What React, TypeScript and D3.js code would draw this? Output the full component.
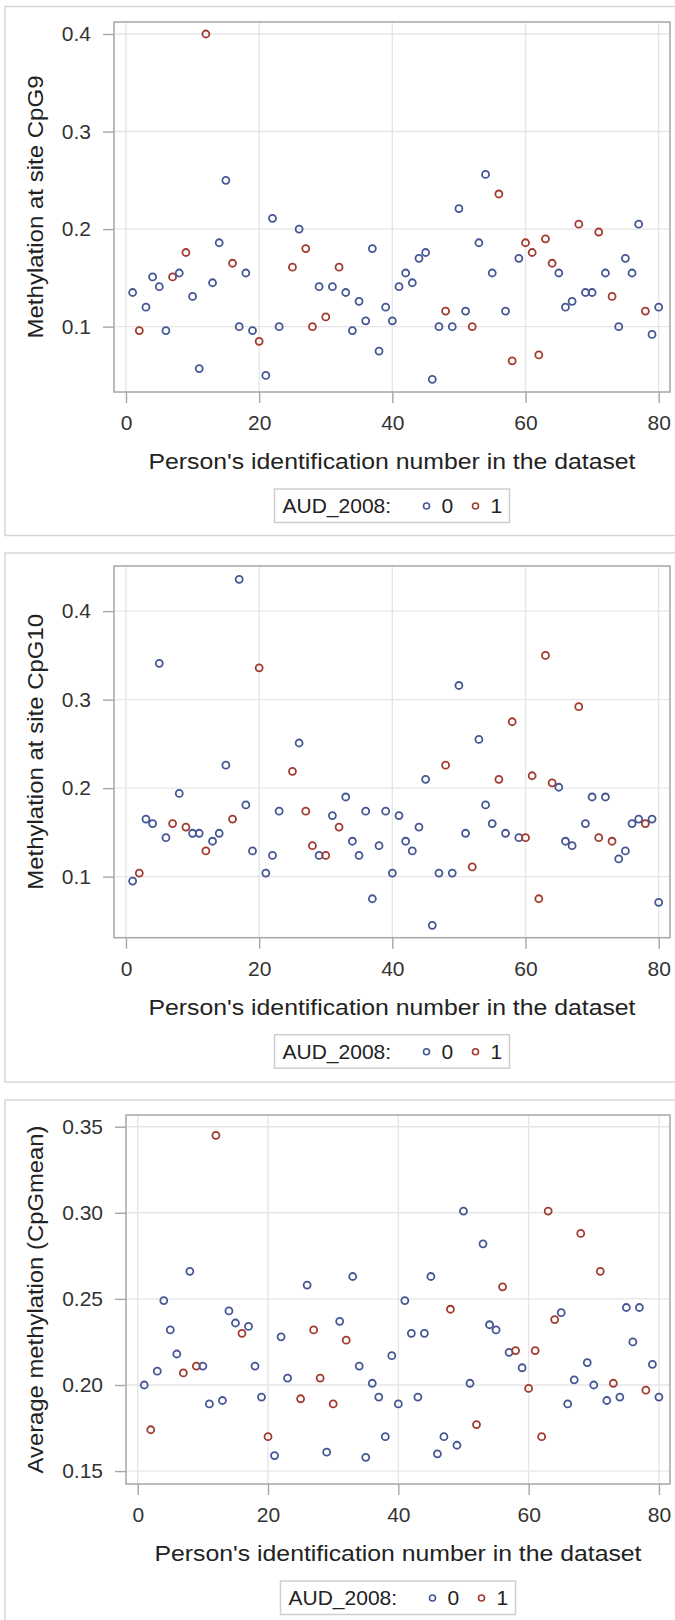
import React, { useEffect, useRef } from 'react';
import * as d3 from 'd3';

// person ids (id 24 is not in the data)
const ids = [
  1, 2, 3, 4, 5, 6, 7, 8, 9, 10, 11, 12, 13, 14, 15, 16, 17, 18, 19, 20,
  21, 22, 23, 25, 26, 27, 28, 29, 30, 31, 32, 33, 34, 35, 36, 37, 38, 39, 40,
  41, 42, 43, 44, 45, 46, 47, 48, 49, 50, 51, 52, 53, 54, 55, 56, 57, 58, 59, 60,
  61, 62, 63, 64, 65, 66, 67, 68, 69, 70, 71, 72, 73, 74, 75, 76, 77, 78, 79, 80,
];

// AUD_2008 group for each id
const aud2008 = [
  0, 1, 0, 0, 0, 0, 1, 0, 1, 0, 0, 1, 0, 0, 0, 1, 0, 0, 0, 1,
  0, 0, 0, 1, 0, 1, 1, 0, 1, 0, 1, 0, 0, 0, 0, 0, 0, 0, 0,
  0, 0, 0, 0, 0, 0, 0, 1, 0, 0, 0, 1, 0, 0, 0, 1, 0, 1, 0, 1,
  1, 1, 1, 1, 0, 0, 0, 1, 0, 0, 1, 0, 1, 0, 0, 0, 0, 1, 0, 0,
];

const cpg9 = [
  0.135, 0.096, 0.120, 0.151, 0.141, 0.096, 0.151, 0.155, 0.176, 0.131,
  0.057, 0.400, 0.145, 0.186, 0.250, 0.165, 0.100, 0.155, 0.096, 0.085,
  0.050, 0.211, 0.100, 0.161, 0.200, 0.180, 0.100, 0.141, 0.110, 0.141,
  0.161, 0.135, 0.096, 0.126, 0.106, 0.180, 0.075, 0.120, 0.106,
  0.141, 0.155, 0.145, 0.170, 0.176, 0.046, 0.100, 0.116, 0.100, 0.221,
  0.116, 0.100, 0.186, 0.256, 0.155, 0.236, 0.116, 0.065, 0.170, 0.186,
  0.176, 0.071, 0.190, 0.165, 0.155, 0.120, 0.126, 0.205, 0.135, 0.135,
  0.197, 0.155, 0.131, 0.100, 0.170, 0.155, 0.205, 0.116, 0.092, 0.120,
];

const cpg10 = [
  0.095, 0.104, 0.165, 0.160, 0.341, 0.144, 0.160, 0.194, 0.156, 0.149,
  0.149, 0.129, 0.140, 0.149, 0.226, 0.165, 0.436, 0.181, 0.129, 0.336,
  0.104, 0.124, 0.174, 0.219, 0.251, 0.174, 0.135, 0.124, 0.124, 0.169,
  0.156, 0.190, 0.140, 0.124, 0.174, 0.075, 0.135, 0.174, 0.104,
  0.169, 0.140, 0.129, 0.156, 0.210, 0.045, 0.104, 0.226, 0.104, 0.316,
  0.149, 0.111, 0.255, 0.181, 0.160, 0.210, 0.149, 0.275, 0.144, 0.144,
  0.214, 0.075, 0.350, 0.206, 0.201, 0.140, 0.135, 0.292, 0.160, 0.190,
  0.144, 0.190, 0.140, 0.120, 0.129, 0.160, 0.165, 0.160, 0.165, 0.071,
];

const cpgMean = [
  0.200, 0.174, 0.208, 0.249, 0.232, 0.218, 0.207, 0.266, 0.211, 0.211,
  0.189, 0.345, 0.191, 0.243, 0.236, 0.230, 0.234, 0.211, 0.193, 0.170,
  0.159, 0.228, 0.204, 0.192, 0.258, 0.232, 0.204, 0.161, 0.189, 0.237,
  0.226, 0.263, 0.211, 0.158, 0.201, 0.193, 0.170, 0.217, 0.189,
  0.249, 0.230, 0.193, 0.230, 0.263, 0.160, 0.170, 0.244, 0.165, 0.301,
  0.201, 0.177, 0.282, 0.235, 0.232, 0.257, 0.219, 0.220, 0.210, 0.198,
  0.220, 0.170, 0.301, 0.238, 0.242, 0.189, 0.203, 0.288, 0.213, 0.200,
  0.266, 0.191, 0.201, 0.193, 0.245, 0.225, 0.245, 0.197, 0.212, 0.193,
];

const xTicks = [0, 20, 40, 60, 80];
const cpg9Ticks = [0.1, 0.2, 0.3, 0.4];
const cpg10Ticks = [0.1, 0.2, 0.3, 0.4];
const meanTicks = [0.15, 0.2, 0.25, 0.3, 0.35];
const legendLabels = ['0', '1'];
const xTitle = "Person's identification number in the dataset";

const W = 675;
const H = 1620;
const COLORS = ['#445694', '#a23a2e'];
const FONT = '"Liberation Sans", Arial, sans-serif';
const X_DOMAIN = [-1.8, 81.7];

const panels = [
  { top: 6.5, frame: [114, 22, 670, 392], yDomain: [0.033, 0.4123], values: cpg9, ticks: cpg9Ticks, fmt: '.1f', title: 'Methylation at site CpG9', titleLen: 263 },
  { top: 553, frame: [114, 566, 670, 937.7], yDomain: [0.031, 0.451], values: cpg10, ticks: cpg10Ticks, fmt: '.1f', title: 'Methylation at site CpG10', titleLen: 276 },
  { top: 1100, frame: [126, 1115, 670, 1484], yDomain: [0.1425, 0.3568], values: cpgMean, ticks: meanTicks, fmt: '.2f', title: 'Average methylation (CpGmean)', titleLen: 348 },
];

const App = () => {
  const ref = useRef<SVGSVGElement>(null);

  useEffect(() => {
    const svg = d3.select(ref.current);
    svg.selectAll('*').remove();
    svg.append('rect').attr('width', W).attr('height', H).attr('fill', '#fff');

    panels.forEach((p) => {
      const [l, t, r, b] = p.frame;
      const cx = (l + r) / 2;
      const g = svg.append('g');

      // outer panel border
      g.append('rect')
        .attr('x', 5).attr('y', p.top)
        .attr('width', 685).attr('height', 529)
        .attr('fill', 'none').attr('stroke', '#d6d6d6').attr('stroke-width', 1.5);

      const x = d3.scaleLinear().domain(X_DOMAIN).range([l, r]);
      const y = d3.scaleLinear().domain(p.yDomain).range([b, t]);

      // grid
      g.selectAll('.vgrid').data(xTicks).enter().append('line')
        .attr('x1', (d) => x(d)).attr('x2', (d) => x(d))
        .attr('y1', t).attr('y2', b)
        .attr('stroke', '#e6e6e6').attr('stroke-width', 1.4);
      g.selectAll('.hgrid').data(p.ticks).enter().append('line')
        .attr('x1', l).attr('x2', r)
        .attr('y1', (d) => y(d)).attr('y2', (d) => y(d))
        .attr('stroke', '#e6e6e6').attr('stroke-width', 1.4);

      // axes
      const xAxis = g.append('g')
        .attr('transform', `translate(0,${b})`)
        .call(d3.axisBottom(x).tickValues(xTicks).tickSize(11).tickPadding(12).tickFormat(d3.format('d')));
      const yAxis = g.append('g')
        .attr('transform', `translate(${l},0)`)
        .call(d3.axisLeft(y).tickValues(p.ticks).tickSize(11).tickPadding(12).tickFormat(d3.format(p.fmt)));
      [xAxis, yAxis].forEach((a) => {
        a.select('.domain').remove();
        a.attr('font-family', FONT).attr('font-size', 21);
        a.selectAll('line').attr('stroke', '#a4a6a9').attr('stroke-width', 1.4);
        a.selectAll('text').attr('fill', '#333');
      });

      // frame
      g.append('rect')
        .attr('x', l).attr('y', t).attr('width', r - l).attr('height', b - t)
        .attr('fill', 'none').attr('stroke', '#a4a6a9').attr('stroke-width', 1.5);

      // points
      g.selectAll('.pt').data(ids).enter().append('circle')
        .attr('cx', (d) => x(d))
        .attr('cy', (d, i) => y(p.values[i]))
        .attr('r', 3.5)
        .attr('fill', 'none')
        .attr('stroke', (d, i) => COLORS[aud2008[i]])
        .attr('stroke-width', 1.8);

      // titles
      g.append('text')
        .attr('x', cx).attr('y', b + 77)
        .attr('text-anchor', 'middle')
        .attr('font-family', FONT).attr('font-size', 22)
        .attr('textLength', 487).attr('lengthAdjust', 'spacingAndGlyphs')
        .attr('fill', '#222')
        .text(xTitle);
      g.append('text')
        .attr('transform', `translate(43,${(t + b) / 2}) rotate(-90)`)
        .attr('text-anchor', 'middle')
        .attr('font-family', FONT).attr('font-size', 22)
        .attr('textLength', p.titleLen).attr('lengthAdjust', 'spacingAndGlyphs')
        .attr('fill', '#222')
        .text(p.title);

      // legend
      const lg = g.append('g').attr('transform', `translate(${cx - 117.5},${b + 97})`);
      lg.append('rect')
        .attr('width', 235).attr('height', 33.5)
        .attr('fill', '#fff').attr('stroke', '#cfcfcf').attr('stroke-width', 1.5);
      lg.append('text')
        .attr('x', 8).attr('y', 24)
        .attr('font-family', FONT).attr('font-size', 21).attr('fill', '#222')
        .text('AUD_2008:');
      legendLabels.forEach((lab, i) => {
        lg.append('circle')
          .attr('cx', 152 + 49 * i).attr('cy', 17).attr('r', 3)
          .attr('fill', 'none').attr('stroke', COLORS[i]).attr('stroke-width', 1.6);
        lg.append('text')
          .attr('x', 167 + 49 * i).attr('y', 24)
          .attr('font-family', FONT).attr('font-size', 21).attr('fill', '#222')
          .text(lab);
      });
    });
  }, []);

  return (
    <svg ref={ref} width={W} height={H} style={{ position: 'absolute', left: 0, top: 0 }} />
  );
};

export default App;
